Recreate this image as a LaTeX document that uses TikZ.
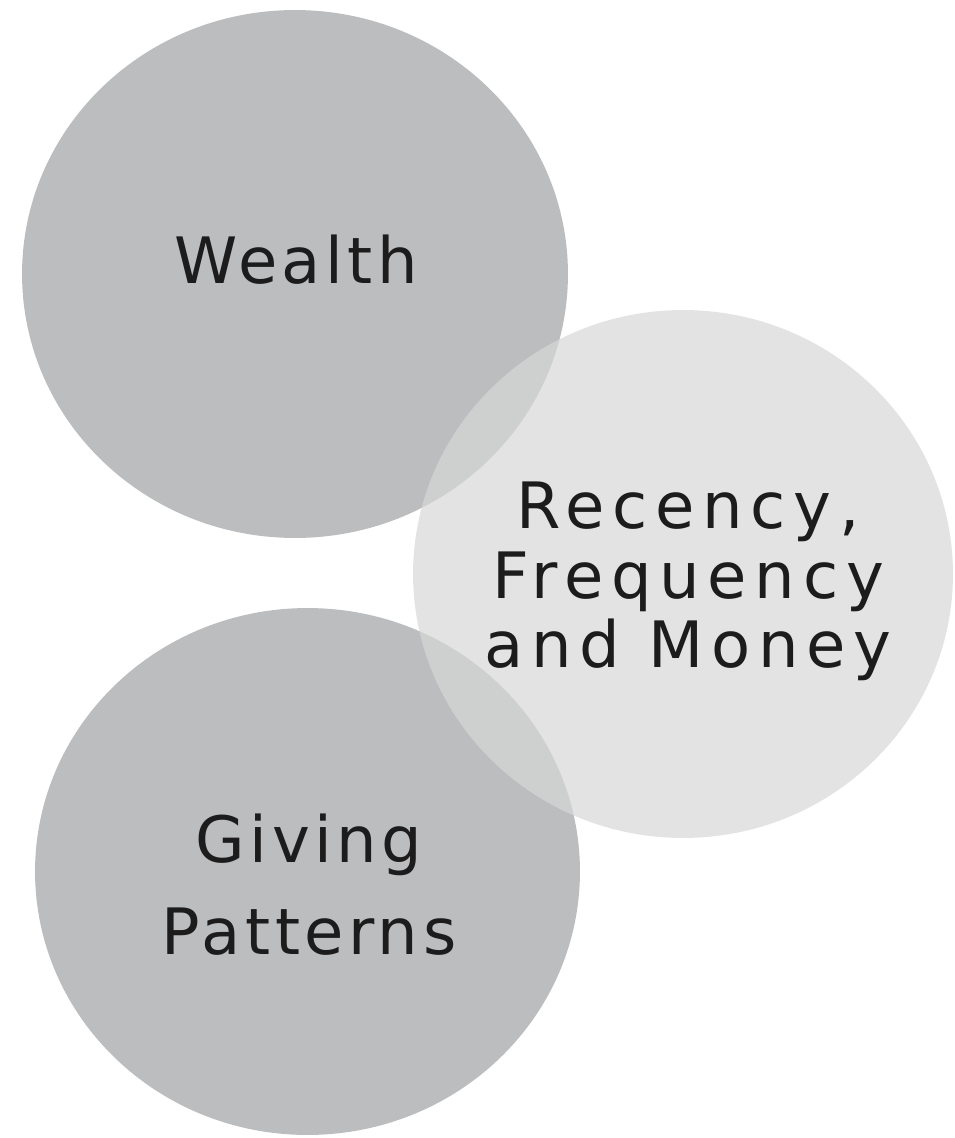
\documentclass[tikz,border=0pt]{standalone}
\usepackage{fontspec}
\setmainfont{DejaVu Sans}[LetterSpace=7]
\usetikzlibrary{shapes.geometric}

\definecolor{blobdark}{RGB}{188,189,191}
\definecolor{bloblight}{RGB}{215,215,215}
\definecolor{inkgray}{RGB}{28,28,28}

\begin{document}
\begin{tikzpicture}[x=0.02cm, y=-0.02cm,
    blob/.style={ellipse, draw=none, inner sep=0pt},
    label/.style={inner sep=0pt, text=inkgray, font=\fontsize{36.4}{39.3}\selectfont}]

\useasboundingbox (0,0) rectangle (954,1138);

% the two solid discs first, the see-through one on top
\node (wealth) [blob, fill=blobdark, minimum width=10.92cm, minimum height=10.56cm] at (295,274) {};
\node (giving) [blob, fill=blobdark, minimum width=10.9cm, minimum height=10.54cm] at (307.5,871.5) {};
\node (rfm) [blob, fill=bloblight, fill opacity=0.7, minimum width=10.8cm, minimum height=10.56cm] at (683,574) {};

\node (wealthtext) [label, anchor=base] at (296,283) {Wealth};
\node (rfmtext) [label, anchor=north, align=center] at (688,482) {\addfontfeature{LetterSpace=12}Recency,\\\addfontfeature{LetterSpace=12}Frequency\\\addfontfeature{LetterSpace=12}and Money};
\node (givingtext) [label, anchor=north, align=center, font=\fontsize{36.4}{52}\selectfont] at (309,814) {Giving\\Patterns};

\end{tikzpicture}
\end{document}
